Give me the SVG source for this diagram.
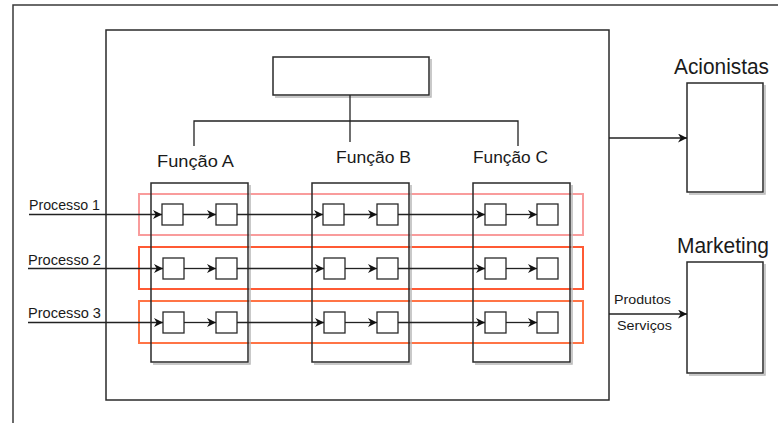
<svg xmlns="http://www.w3.org/2000/svg" width="778" height="423" viewBox="0 0 778 423">
  <style>
    .frame { fill: none; stroke: #3a3a3a; stroke-width: 1.5; }
    .box { fill: #ffffff; stroke: #2a2a2a; stroke-width: 1.5; }
    .col { fill: none; stroke: #2a2a2a; stroke-width: 1.5; }
    .shadow { fill: none; stroke: #b8b8b8; stroke-width: 1.5; }
    .sq { fill: #ffffff; stroke: #2a2a2a; stroke-width: 1.3; }
    .line { fill: none; stroke: #222222; stroke-width: 1.3; }
    .arrow { fill: none; stroke: #222222; stroke-width: 1.3; marker-end: url(#head); }
    .lbl { font-family: "Liberation Sans", Arial, sans-serif; fill: #1a1a1a; }
    .fn { font-size: 16px; }
    .pr { font-size: 14px; }
    .ext { font-size: 22px; }
    .flow { font-size: 13.5px; }
  </style>
  <defs>
    <marker id="head" viewBox="0 0 10 10" refX="10" refY="5" markerWidth="9" markerHeight="9" markerUnits="userSpaceOnUse" orient="auto">
      <path d="M0,0 L10,5 L0,10 L3,5 Z" fill="#111111"/>
    </marker>
  </defs>

  <rect width="778" height="423" fill="#ffffff"/>

  <!-- page frame -->
  <path class="frame" d="M13,423 V5 H778"/>

  <!-- organisation boundary -->
  <g id="organizacao">
    <rect class="col" x="106" y="30" width="503" height="370"/>
  </g>

  <!-- top management box -->
  <g id="direcao">
    <path class="shadow" d="M275,97 H431 V59"/>
    <rect class="box" x="273" y="57" width="156" height="38"/>
  </g>

  <!-- process bands -->
  <g id="processo-1">
    <rect x="139" y="194" width="444" height="41" fill="none" stroke="#f99c9c" stroke-width="2"/>
    <text class="lbl pr" x="29" y="210" textLength="71" lengthAdjust="spacingAndGlyphs">Processo 1</text>
  </g>
  <g id="processo-2">
    <rect x="139" y="247" width="444" height="42" fill="none" stroke="#ff5a34" stroke-width="2"/>
    <text class="lbl pr" x="28" y="265" textLength="73" lengthAdjust="spacingAndGlyphs">Processo 2</text>
  </g>
  <g id="processo-3">
    <rect x="139" y="301" width="444" height="42" fill="none" stroke="#ff7446" stroke-width="2"/>
    <text class="lbl pr" x="28" y="318" textLength="73" lengthAdjust="spacingAndGlyphs">Processo 3</text>
  </g>

  <!-- function columns -->
  <g id="funcao-a">
    <path class="shadow" d="M153,364 H250 V185"/>
    <rect class="col" x="151" y="183" width="97" height="179"/>
    <text class="lbl fn" x="157" y="167" textLength="77" lengthAdjust="spacingAndGlyphs">Função  A</text>
  </g>
  <g id="funcao-b">
    <path class="shadow" d="M314,364 H411 V185"/>
    <rect class="col" x="312" y="183" width="97" height="179"/>
    <text class="lbl fn" x="336" y="163" textLength="75" lengthAdjust="spacingAndGlyphs">Função B</text>
  </g>
  <g id="funcao-c">
    <path class="shadow" d="M475,364 H572 V185"/>
    <rect class="col" x="473" y="183" width="97" height="179"/>
    <text class="lbl fn" x="473" y="163" textLength="75" lengthAdjust="spacingAndGlyphs">Função C</text>
  </g>

  <!-- activity steps -->
  <g id="atividades">
    <g id="p1-steps">
      <rect class="sq" x="162" y="204" width="21" height="21"/>
      <rect class="sq" x="216" y="204" width="21" height="21"/>
      <rect class="sq" x="323" y="204" width="21" height="21"/>
      <rect class="sq" x="377" y="204" width="21" height="21"/>
      <rect class="sq" x="485" y="204" width="21" height="21"/>
      <rect class="sq" x="537" y="204" width="21" height="21"/>
    </g>
    <g id="p2-steps">
      <rect class="sq" x="163" y="258" width="21" height="21"/>
      <rect class="sq" x="216" y="258" width="21" height="21"/>
      <rect class="sq" x="324" y="258" width="21" height="21"/>
      <rect class="sq" x="377" y="258" width="21" height="21"/>
      <rect class="sq" x="485" y="258" width="21" height="21"/>
      <rect class="sq" x="537" y="258" width="21" height="21"/>
    </g>
    <g id="p3-steps">
      <rect class="sq" x="163" y="312" width="21" height="21"/>
      <rect class="sq" x="216" y="312" width="21" height="21"/>
      <rect class="sq" x="324" y="312" width="21" height="21"/>
      <rect class="sq" x="377" y="312" width="21" height="21"/>
      <rect class="sq" x="485" y="312" width="21" height="21"/>
      <rect class="sq" x="537" y="312" width="21" height="21"/>
    </g>
  </g>

  <!-- stakeholders -->
  <g id="acionistas">
    <path class="shadow" d="M689,194 H765 V85"/>
    <rect class="box" x="687" y="83" width="76" height="109"/>
    <text class="lbl ext" x="674" y="74" textLength="95" lengthAdjust="spacingAndGlyphs">Acionistas</text>
  </g>
  <g id="marketing">
    <path class="shadow" d="M689,375 H765 V264"/>
    <rect class="box" x="687" y="262" width="76" height="111"/>
    <text class="lbl ext" x="677" y="253" textLength="92" lengthAdjust="spacingAndGlyphs">Marketing</text>
  </g>

  <!-- connectors -->
  <g id="conectores">
    <!-- hierarchy -->
    <path class="line" d="M350,95 V142"/>
    <path class="line" d="M194,146 V121 H518 V146"/>

    <!-- process 1 -->
    <path class="arrow" d="M29,214.5 H162"/>
    <path class="arrow" d="M183,214.5 H216"/>
    <path class="arrow" d="M237,214.5 H323"/>
    <path class="arrow" d="M344,214.5 H377"/>
    <path class="arrow" d="M398,214.5 H485"/>
    <path class="arrow" d="M506,214.5 H537"/>

    <!-- process 2 -->
    <path class="arrow" d="M28,268.5 H163"/>
    <path class="arrow" d="M184,268.5 H216"/>
    <path class="arrow" d="M237,268.5 H324"/>
    <path class="arrow" d="M345,268.5 H377"/>
    <path class="arrow" d="M398,268.5 H485"/>
    <path class="arrow" d="M506,268.5 H537"/>

    <!-- process 3 -->
    <path class="arrow" d="M28,322.5 H163"/>
    <path class="arrow" d="M184,322.5 H216"/>
    <path class="arrow" d="M237,322.5 H324"/>
    <path class="arrow" d="M345,322.5 H377"/>
    <path class="arrow" d="M398,322.5 H485"/>
    <path class="arrow" d="M506,322.5 H537"/>

    <!-- outputs -->
    <path class="arrow" d="M609,138 H687"/>
    <path class="arrow" d="M609,314 H687"/>
    <text class="lbl flow" x="614" y="304" textLength="57" lengthAdjust="spacingAndGlyphs">Produtos</text>
    <text class="lbl flow" x="617" y="330" textLength="55" lengthAdjust="spacingAndGlyphs">Serviços</text>
  </g>
</svg>
